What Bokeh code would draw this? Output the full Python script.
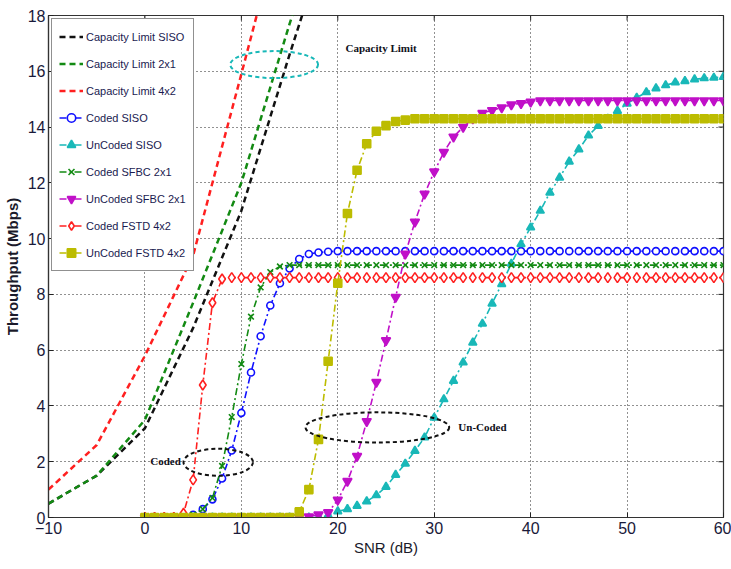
from bokeh.plotting import figure
from bokeh.models import Range1d, Legend, LegendItem, FixedTicker, Label
from bokeh.embed import file_html
from bokeh.resources import INLINE

# ---- data ----
snr_cap = [-10, -5, 0, 5, 10, 15, 20]
cap_siso = [0.5, 1.5, 3.2, 6.8, 11.0, 16.6, 22.0]
cap_2x1 = [0.5, 1.5, 3.5, 7.7, 12.0, 17.7, 23.0]
cap_4x2 = [1.0, 2.6, 5.8, 9.4, 15.9, 22.5, 29.0]

snr = list(range(0, 61))

coded_siso = [
    0, 0, 0, 0, 0.02, 0.1, 0.3, 0.65, 1.4, 2.4,
    3.75, 5.2, 6.5, 7.6, 8.4, 8.93, 9.27, 9.45, 9.5, 9.53,
    9.55, 9.55, 9.55, 9.55, 9.55, 9.55, 9.55, 9.55, 9.55, 9.55,
    9.55, 9.55, 9.55, 9.55, 9.55, 9.55, 9.55, 9.55, 9.55, 9.55,
    9.55, 9.55, 9.55, 9.55, 9.55, 9.55, 9.55, 9.55, 9.55, 9.55,
    9.55, 9.55, 9.55, 9.55, 9.55, 9.55, 9.55, 9.55, 9.55, 9.55,
    9.55]

uncoded_siso = [
    0, 0, 0, 0, 0, 0, 0, 0, 0, 0,
    0, 0, 0, 0, 0, 0, 0, 0, 0, 0.08,
    0.22, 0.3, 0.42, 0.58, 0.8, 1.1, 1.53, 1.93, 2.39, 2.87,
    3.58, 4.24, 4.9, 5.56, 6.27, 6.95, 7.67, 8.37, 9.1, 9.8,
    10.4, 11.0, 11.65, 12.19, 12.76, 13.2, 13.7, 14.04, 14.3, 14.58,
    14.84, 15.05, 15.25, 15.39, 15.5, 15.6, 15.65, 15.71, 15.75, 15.77,
    15.8]

coded_sfbc = [
    0, 0, 0, 0, 0.02, 0.1, 0.3, 0.7, 1.85, 3.6,
    5.5, 7.2, 8.25, 8.8, 9.0, 9.05, 9.05, 9.05, 9.05, 9.05,
    9.05, 9.05, 9.05, 9.05, 9.05, 9.05, 9.05, 9.05, 9.05, 9.05,
    9.05, 9.05, 9.05, 9.05, 9.05, 9.05, 9.05, 9.05, 9.05, 9.05,
    9.05, 9.05, 9.05, 9.05, 9.05, 9.05, 9.05, 9.05, 9.05, 9.05,
    9.05, 9.05, 9.05, 9.05, 9.05, 9.05, 9.05, 9.05, 9.05, 9.05,
    9.05]

uncoded_sfbc = [
    0, 0, 0, 0, 0, 0, 0, 0, 0, 0,
    0, 0, 0, 0, 0, 0, 0, 0.03, 0.1, 0.18,
    0.63, 1.3, 2.2, 3.45, 4.85, 6.35, 7.9, 9.45, 10.6, 11.6,
    12.4, 13.1, 13.65, 14.0, 14.3, 14.5, 14.6, 14.7, 14.8, 14.85,
    14.9, 14.95, 14.95, 14.95, 14.95, 14.95, 14.95, 14.95, 14.95, 14.95,
    14.95, 14.95, 14.95, 14.95, 14.95, 14.95, 14.95, 14.95, 14.95, 14.95,
    14.95]

coded_fstd = [
    0, 0, 0, 0, 0.15, 1.35, 4.75, 7.7, 8.55, 8.6,
    8.6, 8.6, 8.6, 8.6, 8.6, 8.6, 8.6, 8.6, 8.6, 8.6,
    8.6, 8.6, 8.6, 8.6, 8.6, 8.6, 8.6, 8.6, 8.6, 8.6,
    8.6, 8.6, 8.6, 8.6, 8.6, 8.6, 8.6, 8.6, 8.6, 8.6,
    8.6, 8.6, 8.6, 8.6, 8.6, 8.6, 8.6, 8.6, 8.6, 8.6,
    8.6, 8.6, 8.6, 8.6, 8.6, 8.6, 8.6, 8.6, 8.6, 8.6,
    8.6]

uncoded_fstd = [
    0, 0, 0, 0, 0, 0, 0, 0, 0, 0,
    0, 0, 0, 0, 0, 0, 0.2, 1.0, 2.8, 5.6,
    8.4, 10.9, 12.45, 13.4, 13.85, 14.05, 14.2, 14.25, 14.3, 14.3,
    14.3, 14.3, 14.3, 14.3, 14.3, 14.3, 14.3, 14.3, 14.3, 14.3,
    14.3, 14.3, 14.3, 14.3, 14.3, 14.3, 14.3, 14.3, 14.3, 14.3,
    14.3, 14.3, 14.3, 14.3, 14.3, 14.3, 14.3, 14.3, 14.3, 14.3,
    14.3]

x_ticks = [-10, 0, 10, 20, 30, 40, 50, 60]
y_ticks = [0, 2, 4, 6, 8, 10, 12, 14, 16, 18]
X_MIN, X_MAX = -10, 60
Y_MIN, Y_MAX = 0, 18

legend_labels = ["Capacity Limit SISO", "Capacity Limit 2x1", "Capacity Limit 4x2",
                 "Coded SISO", "UnCoded SISO", "Coded SFBC 2x1", "UnCoded SFBC 2x1",
                 "Coded FSTD 4x2", "UnCoded FSTD 4x2"]

# annotations: (center x, center y, width, height)
ell_coded = (7.6, 1.98, 7.2, 0.97)
ell_uncoded = (24.1, 3.23, 14.9, 1.08)
ell_cap = (13.4, 16.24, 9.1, 0.97)
ann_texts = ["Coded", "Un-Coded", "Capacity Limit"]
ann_x = [0.55, 32.5, 20.8]
ann_y = [2.03, 3.26, 16.83]

# ---- colours ----
C_BLACK = "#111111"
C_GREEN = "#138a13"
C_RED = "#ff2020"
C_BLUE = "#1010ff"
C_CYAN = "#19b8b8"
C_MAG = "#c010c8"
C_YEL = "#bcbc00"

p = figure(width=731, height=569, output_backend="svg", toolbar_location=None,
           x_range=Range1d(X_MIN, X_MAX), y_range=Range1d(Y_MIN, Y_MAX),
           min_border_left=48, min_border_right=8, min_border_top=15, min_border_bottom=52)
p.background_fill_color = "white"
p.border_fill_color = "white"
p.outline_line_color = "#333333"
p.outline_line_width = 1.2

TICK_COLOR = "#1a1a3a"
for ax in (p.xaxis[0], p.yaxis[0]):
    ax.major_label_text_font = "Liberation Sans"
    ax.major_label_text_font_size = "16px"
    ax.major_label_text_color = TICK_COLOR
    ax.major_tick_in = 5
    ax.major_tick_out = 0
    ax.minor_tick_in = 0
    ax.minor_tick_out = 0
    ax.axis_line_color = "#333333"
    ax.axis_line_width = 1.2
    ax.major_tick_line_color = "#222222"
    ax.axis_label_text_font = "Liberation Sans"
    ax.axis_label_text_font_size = "15px"
    ax.axis_label_text_color = "#1a1a2a"

p.xaxis.ticker = FixedTicker(ticks=x_ticks)
p.yaxis.ticker = FixedTicker(ticks=y_ticks)
p.xaxis.axis_label = "SNR (dB)"
p.xaxis.major_label_standoff = 4
p.xaxis.axis_label_standoff = 2
p.yaxis.axis_label = "Throughput (Mbps)"
p.yaxis.axis_label_text_font_style = "bold"
p.yaxis.major_label_standoff = 3
p.yaxis.axis_label_standoff = 4
p.xaxis.axis_label_text_font_style = "normal"

p.xgrid.ticker = FixedTicker(ticks=x_ticks)
p.ygrid.ticker = FixedTicker(ticks=y_ticks)
p.grid.grid_line_color = "#222222"
p.grid.grid_line_dash = "1 3"
p.grid.grid_line_width = 1

# inward ticks on the top and right edges (matlab box style)
x_span = X_MAX - X_MIN
y_span = Y_MAX - Y_MIN
p.segment(x0=[X_MAX] * len(y_ticks), y0=y_ticks,
          x1=[X_MAX - x_span * 0.0075] * len(y_ticks), y1=y_ticks,
          line_color="#222222", line_width=1)
p.segment(x0=x_ticks, y0=[Y_MAX] * len(x_ticks),
          x1=x_ticks, y1=[Y_MAX - y_span * 0.01] * len(x_ticks),
          line_color="#222222", line_width=1)

items = []
CAP_DASH = "6 4"
r1 = p.line(snr_cap, cap_siso, line_color=C_BLACK, line_width=2.5, line_dash=CAP_DASH)
items.append(LegendItem(label=legend_labels[0], renderers=[r1]))
r2 = p.line(snr_cap, cap_2x1, line_color=C_GREEN, line_width=2.5, line_dash=CAP_DASH)
items.append(LegendItem(label=legend_labels[1], renderers=[r2]))
r3 = p.line(snr_cap, cap_4x2, line_color=C_RED, line_width=2.5, line_dash=CAP_DASH)
items.append(LegendItem(label=legend_labels[2], renderers=[r3]))

DD = "7 3 2 3"

def series(y, color, marker, size, fill, label, lw=1.6):
    rl = p.line(snr, y, line_color=color, line_width=lw, line_dash=DD)
    rs = p.scatter(snr, y, marker=marker, size=size, line_color=color, fill_color=fill,
                   line_width=1.6)
    items.append(LegendItem(label=label, renderers=[rl, rs]))

series(coded_siso, C_BLUE, "circle", 7, "white", legend_labels[3])
series(uncoded_siso, C_CYAN, "triangle", 8, C_CYAN, legend_labels[4])
series(coded_sfbc, C_GREEN, "x", 8, None, legend_labels[5], lw=1.6)
series(uncoded_sfbc, C_MAG, "inverted_triangle", 9, C_MAG, legend_labels[6])
series(coded_fstd, C_RED, "diamond", 10, "white", legend_labels[7])
series(uncoded_fstd, C_YEL, "square", 8, C_YEL, legend_labels[8])

# annotation ellipses
for (cx, cy, w, h), col in ((ell_coded, C_BLACK), (ell_uncoded, C_BLACK), (ell_cap, C_CYAN)):
    p.ellipse(x=[cx], y=[cy], width=[w], height=[h], fill_color=None,
              line_color=col, line_width=2, line_dash="4 3")

for t, x, y in zip(ann_texts, ann_x, ann_y):
    p.add_layout(Label(x=x, y=y, text=t, text_font="Liberation Serif", text_font_size="11px",
                       text_font_style="bold", text_color="#101020", text_baseline="middle",
                       text_align="left"))

legend = Legend(items=items, location="top_left", margin=3, padding=7, spacing=6,
                glyph_width=24, glyph_height=21, label_height=21, label_standoff=3,
                label_text_font="Liberation Sans", label_text_font_size="11px",
                label_text_color="#1a1a50", border_line_color="#222222", border_line_width=1,
                background_fill_color="white", background_fill_alpha=1.0)
p.add_layout(legend)

open("out.html", "w").write(file_html(p, INLINE))
